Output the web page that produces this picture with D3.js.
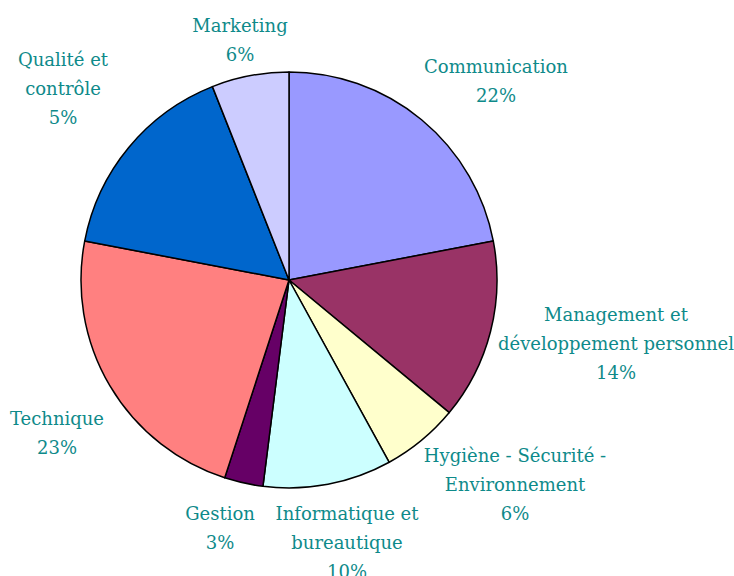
<!DOCTYPE html>
<html>
<head>
<meta charset="utf-8">
<script src="https://cdn.jsdelivr.net/npm/d3@7"></script>
<style>
  html, body { margin: 0; padding: 0; background: #fff; }
  svg { display: block; }
</style>
</head>
<body>
<svg id="chart" width="734" height="576"></svg>
<script>
// categories, clockwise from 12 o'clock
const categories = [
  "Communication",
  "Management et développement personnel",
  "Hygiène - Sécurité - Environnement",
  "Informatique et bureautique",
  "Gestion",
  "Technique",
  "Qualité et contrôle",
  "Marketing"
];
// slice sizes as drawn (%)
const values = [22, 14, 6, 10, 3, 23, 16, 6];
// percent text as printed on the chart
const pctText = ["22%", "14%", "6%", "10%", "3%", "23%", "5%", "6%"];
// label line breaks
const labelLines = [
  ["Communication"],
  ["Management et", "développement personnel"],
  ["Hygiène - Sécurité -", "Environnement"],
  ["Informatique et", "bureautique"],
  ["Gestion"],
  ["Technique"],
  ["Qualité et", "contrôle"],
  ["Marketing"]
];
const colors = ["#9999ff", "#993366", "#ffffcc", "#ccffff", "#660066", "#ff8080", "#0066cc", "#ccccff"];

/* layout */
const svg = d3.select("#chart");
const cx = 289, cy = 280, radius = 208;
const lineH = 29;
// label anchor (center x, first baseline) relative to pie center
const labelOffset = [
  [207, -207], [327, 41], [226, 182], [58, 240],
  [-69, 240], [-232, 145], [-226, -214], [-49, -248]
];

const data = categories.map((c, i) => ({ name: c, value: values[i], i }));

const pie = d3.pie().sort(null).value(d => d.value);
const arc = d3.arc().innerRadius(0).outerRadius(radius);

const g = svg.append("g").attr("transform", `translate(${cx},${cy})`);

g.selectAll("path")
  .data(pie(data))
  .join("path")
  .attr("d", arc)
  .attr("fill", d => colors[d.data.i])
  .attr("stroke", "#000")
  .attr("stroke-width", 1.5)
  .attr("stroke-linejoin", "round");

// labels
const labels = g.selectAll("text.lbl")
  .data(data)
  .join("text")
  .attr("class", "lbl")
  .attr("x", d => labelOffset[d.i][0])
  .attr("y", d => labelOffset[d.i][1])
  .attr("text-anchor", "middle")
  .attr("font-family", "'DejaVu Serif', serif")
  .attr("font-size", "18px")
  .attr("fill", "#0e8a8a");

labels.each(function(d) {
  const t = d3.select(this);
  const lines = [...labelLines[d.i], pctText[d.i]];
  lines.forEach((ln, k) => {
    t.append("tspan")
      .attr("x", labelOffset[d.i][0])
      .attr("dy", k === 0 ? 0 : lineH)
      .text(ln);
  });
});
</script>
</body>
</html>
